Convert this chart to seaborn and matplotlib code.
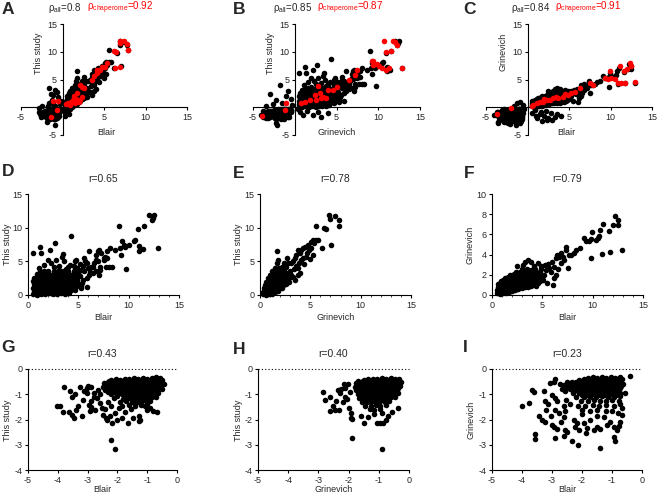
import numpy as np
import pandas as pd
import seaborn as sns
import matplotlib.pyplot as plt
from matplotlib.ticker import MultipleLocator

# ---- data: (x, y) values ----
# row 2, panel D: Blair vs This study (positive fold changes)
d_pts = [(9.0,10.2),(10.9,9.85),(11.5,10.2),(12.0,11.9),(12.5,11.9),(12.3,11.2),(12.4,11.5),(12.9,7.0),(11.0,6.5),(11.4,6.8),
         (11.0,7.3),(10.6,8.2),(10.5,8.0),(10.0,7.5),(9.6,7.1),(9.3,8.0),(9.5,7.5),(9.1,7.0),(9.2,6.0),(9.7,3.9),
         (8.6,6.7),(8.1,7.0),(7.8,6.5),(7.6,5.7),(7.8,5.5),(7.5,5.2),(7.2,4.2),(7.1,6.7),(7.0,6.6),(7.3,6.2),
         (6.8,6.0),(6.8,5.2),(6.6,4.7),(6.3,4.2),(6.5,4.1),(6.1,6.5),(5.6,5.5),(5.7,5.0),(5.9,4.7),(5.5,4.3),
         (5.3,3.7),(5.6,3.5),(5.9,2.5),(6.1,3.0),(6.5,3.2),(6.8,3.5),(7.1,3.0),(7.2,3.7),(7.7,4.1),(8.0,4.1),
         (8.3,4.2),(7.5,5.5),(5.9,1.2),(5.3,1.3),(4.3,8.7),(0.5,6.2),(1.2,7.2),(1.3,6.2),(2.2,6.7),(2.7,7.7),
         (3.5,6.1),(3.4,5.6),(2.0,5.2),(2.3,4.8),(2.8,5.2),(3.6,5.0),(4.0,4.2),(4.2,4.5),(4.7,5.0),(4.8,5.2),
         (4.6,4.3),(7.0,5.1),(6.0,4.0),(6.2,3.4),(5.2,4.6),(4.9,4.0),(5.0,3.3),(2.6,4.2),(3.1,4.3),(1.6,4.5),
         (1.1,4.0),(3.8,3.9),
         (0.5,0.15),(0.9,0.05),(1.3,0.2),(1.7,0.1),(2.1,0.25),(2.5,0.1),(2.9,0.2),(3.3,0.3),(3.7,0.15),(4.1,0.35),
         (0.55,0.6),(0.95,0.7),(1.35,0.55),(1.8,0.65),(2.2,0.5),(2.6,0.7),(3.0,0.6),(3.4,0.75),(3.85,0.6),(4.25,0.8),(4.7,0.7),
         (0.5,1.1),(0.85,1.2),(1.25,1.05),(1.65,1.15),(2.05,1.0),(2.45,1.2),(2.85,1.1),(3.25,1.2),(3.65,1.0),(4.05,1.25),
         (4.45,1.1),(4.9,1.3),(5.3,1.0),
         (0.6,1.6),(1.0,1.7),(1.4,1.55),(1.8,1.65),(2.2,1.5),(2.6,1.7),(3.0,1.6),(3.4,1.55),(3.8,1.7),(4.2,1.6),
         (4.6,1.75),(5.0,1.6),(5.4,1.8),
         (0.5,2.1),(0.9,2.2),(1.3,2.05),(1.7,2.15),(2.1,2.0),(2.5,2.2),(2.9,2.1),(3.3,2.25),(3.7,2.05),(4.1,2.2),
         (4.5,2.1),(4.9,2.3),(5.5,2.2),
         (0.6,2.55),(1.0,2.7),(1.4,2.6),(1.8,2.65),(2.2,2.55),(2.6,2.7),(3.0,2.6),(3.4,2.75),(3.8,2.6),(4.2,2.7),
         (4.7,2.65),(5.2,2.8),
         (0.9,3.05),(1.3,3.2),(1.7,3.1),(2.1,3.15),(2.5,3.0),(2.9,3.2),(3.3,3.1),(3.7,3.25),(4.1,3.1),(4.6,3.2),(5.0,3.0),
         (1.2,3.55),(1.6,3.5),(2.0,3.6),(2.6,3.5),(3.1,3.65),(3.5,3.5),(4.0,3.6),(4.6,3.55),
         (0.7,0.35),(1.1,0.4),(1.5,0.35),(1.9,0.4),(2.3,0.3),(2.7,0.45),(3.1,0.4),(3.5,0.5),(3.9,0.4),
         (0.7,0.85),(1.1,0.9),(1.5,0.8),(1.9,0.9),(2.3,0.8),(2.7,0.95),(3.1,0.85),(3.5,0.95),(3.9,0.85),(4.4,0.95),
         (0.75,1.35),(1.15,1.4),(1.55,1.3),(1.95,1.4),(2.35,1.35),(2.75,1.45),(3.15,1.35),(3.55,1.4),(3.95,1.35),(4.35,1.45),
         (0.75,1.85),(1.15,1.9),(1.55,1.8),(1.95,1.85),(2.35,1.9),(2.75,1.85),(3.15,1.95),(3.55,1.85),(3.95,1.9),(4.75,1.9),
         (0.8,2.4),(1.2,2.35),(1.6,2.45),(2.0,2.35),(2.4,2.4),(2.8,2.35),(3.2,2.45),(3.6,2.35),(4.0,2.45),(4.4,2.4),
         (1.1,2.9),(1.5,2.85),(1.9,2.9),(2.3,2.8),(2.7,2.9),(3.1,2.85),(3.5,2.95),(3.9,2.85),(4.4,2.95)]

# panel E: Grinevich vs This study (positive)
e_pts = [(6.9,11.9),(7.45,11.8),(6.95,11.3),(7.8,11.2),(7.85,10.3),(5.6,10.3),(6.4,10.0),(6.6,9.75),(7.05,7.4),(6.2,7.0),
         (5.3,8.2),(5.6,8.1),(5.8,8.1),(5.4,7.7),(5.1,7.9),(4.8,7.5),(4.5,7.1),(4.3,7.0),(4.1,6.7),(5.1,7.0),
         (4.9,6.7),(3.8,6.7),(4.0,6.3),(3.6,6.0),(5.3,6.0),(4.6,5.7),(4.3,5.5),(4.1,5.2),(3.5,5.5),(3.3,5.0),
         (3.1,4.7),(3.6,4.3),(3.8,4.0),(2.65,5.5),(2.8,4.7),(2.5,4.2),(1.8,5.2),(1.65,4.7),(1.7,6.5),(2.15,4.2),
         (2.0,3.7),(3.0,3.5),(3.1,3.0),(2.8,2.5),(4.0,3.2),(3.5,2.2),(2.0,1.0),(2.3,1.5),(4.4,4.6),(3.9,4.8),
         (3.4,3.9),(4.7,6.2),(2.6,3.3),(3.3,2.7),(2.9,1.9),(3.8,2.9),(5.0,5.3),(2.4,4.8),
         (0.3,0.1),(0.6,0.05),(0.9,0.15),(1.2,0.1),
         (0.3,0.5),(0.6,0.45),(0.9,0.55),(1.2,0.5),(1.5,0.45),(1.8,0.6),
         (0.35,1.0),(0.65,0.95),(0.95,1.05),(1.25,0.95),(1.55,1.05),(1.85,1.0),(2.15,1.1),
         (0.5,1.5),(0.8,1.45),(1.1,1.55),(1.4,1.5),(1.7,1.45),(2.0,1.55),(2.3,1.5),(2.6,1.6),
         (0.6,2.0),(0.9,2.05),(1.2,1.95),(1.5,2.05),(1.8,2.0),(2.1,1.95),(2.4,2.05),(2.7,2.1),
         (0.75,2.5),(1.05,2.45),(1.35,2.55),(1.65,2.5),(1.95,2.45),(2.25,2.55),(2.6,2.5),(3.0,2.6),
         (0.95,3.0),(1.25,3.05),(1.55,2.95),(1.85,3.05),(2.15,3.0),(2.5,2.95),(2.9,3.1),
         (1.2,3.5),(1.5,3.45),(1.8,3.55),(2.1,3.5),(2.4,3.6),
         (1.5,4.0),(1.9,4.05),(2.3,3.95),(2.6,4.1),
         (0.45,0.3),(0.75,0.3),(1.05,0.35),(0.5,0.75),(0.8,0.75),(1.1,0.8),(1.4,0.75),(1.7,0.8),
         (0.5,1.25),(0.8,1.25),(1.1,1.3),(1.4,1.25),(1.7,1.3),(2.0,1.25),
         (0.7,1.75),(1.0,1.75),(1.3,1.8),(1.6,1.75),(1.9,1.8),(2.2,1.75),(2.5,1.8),
         (0.9,2.25),(1.2,2.3),(1.5,2.25),(1.8,2.3),(2.1,2.25),(2.4,2.3),(2.8,2.3),
         (1.1,2.75),(1.4,2.8),(1.7,2.75),(2.0,2.8),(2.3,2.75),(2.7,2.8),
         (1.35,3.25),(1.65,3.3),(1.95,3.25),(2.25,3.3),(2.6,3.25),(1.7,3.8),(2.05,3.75)]

# panel F: Blair vs Grinevich (positive)
f_pts = [(12.2,7.85),(12.5,7.45),(12.05,6.95),(12.5,6.95),(12.9,4.45),(11.0,7.0),(11.65,6.3),(10.9,4.1),(11.75,4.3),(10.75,6.45),
         (10.65,5.8),(10.5,5.6),(10.3,5.45),(9.95,6.2),(9.85,5.5),(9.6,5.3),(9.35,5.3),(9.1,5.6),(8.7,4.7),(9.85,3.7),
         (8.35,4.5),(8.1,4.2),(7.85,4.0),(7.6,4.0),(7.35,4.75),(7.35,4.5),(7.5,2.65),(6.85,4.15),(6.7,3.8),(6.45,4.0),
         (6.4,3.65),(7.1,3.75),(7.2,3.5),(6.85,3.15),(6.2,2.8),(6.4,2.0),(6.2,1.65),(6.05,1.0),(5.4,2.5),(5.7,2.65),
         (5.9,2.3),(5.2,2.0),(4.7,1.8),(5.05,1.5),(3.05,3.0),(3.3,3.3),(3.55,3.5),(3.9,3.3),(4.2,2.9),(4.55,3.15),
         (4.9,2.9),(2.5,2.9),(5.6,3.1),(6.0,3.3),(5.3,3.0),(6.6,2.6),(5.5,1.2),(4.4,0.9),
         (0.5,0.15),(0.8,0.1),(1.1,0.2),(1.4,0.15),(1.7,0.25),
         (0.5,0.45),(0.8,0.5),(1.1,0.4),(1.4,0.5),(1.7,0.45),(2.0,0.4),(2.3,0.5),(2.6,0.55),
         (0.55,0.75),(0.85,0.8),(1.15,0.7),(1.45,0.8),(1.75,0.75),(2.05,0.7),(2.35,0.8),(2.65,0.75),(2.95,0.7),(3.25,0.8),
         (3.6,0.75),(3.9,0.85),
         (0.6,1.05),(0.9,1.1),(1.2,1.0),(1.5,1.1),(1.8,1.05),(2.1,1.0),(2.4,1.1),(2.7,1.05),(3.0,1.0),(3.3,1.1),
         (3.6,1.05),(3.9,1.0),(4.2,1.1),(4.6,1.15),
         (0.9,1.35),(1.2,1.4),(1.5,1.3),(1.8,1.4),(2.1,1.35),(2.4,1.3),(2.7,1.4),(3.0,1.35),(3.3,1.3),(3.6,1.4),
         (3.9,1.35),(4.2,1.3),(4.5,1.4),(4.8,1.35),
         (1.3,1.65),(1.6,1.7),(1.9,1.6),(2.2,1.7),(2.5,1.65),(2.8,1.6),(3.1,1.7),(3.4,1.65),(3.7,1.6),(4.0,1.7),
         (4.3,1.65),(4.6,1.6),(5.0,1.7),
         (1.8,1.95),(2.1,2.0),(2.4,1.9),(2.7,2.0),(3.0,1.95),(3.3,1.9),(3.6,2.0),(3.9,1.95),(4.2,1.9),(4.5,2.0),(4.8,1.95),
         (2.4,2.25),(2.8,2.3),(3.1,2.2),(3.4,2.3),(3.7,2.25),(4.0,2.2),(4.4,2.3),(4.8,2.25),
         (3.0,2.55),(3.5,2.6),(3.9,2.5),(4.3,2.6),(4.9,2.55),
         (0.65,0.3),(0.95,0.3),(1.25,0.3),(0.7,0.6),(1.0,0.6),(1.3,0.65),(1.6,0.6),(1.9,0.6),(2.2,0.65),
         (0.75,0.9),(1.05,0.9),(1.35,0.95),(1.65,0.9),(1.95,0.9),(2.25,0.95),(2.55,0.9),(2.85,0.9),(3.15,0.95),(3.45,0.9),
         (0.75,1.2),(1.05,1.25),(1.35,1.2),(1.65,1.25),(1.95,1.2),(2.25,1.2),(2.55,1.25),(2.85,1.2),(3.15,1.25),(3.45,1.2),(3.75,1.2),(4.05,1.25),
         (1.1,1.5),(1.4,1.55),(1.7,1.5),(2.0,1.55),(2.3,1.5),(2.6,1.5),(2.9,1.55),(3.2,1.5),(3.5,1.55),(3.8,1.5),(4.1,1.5),(4.4,1.55),
         (1.6,1.8),(1.95,1.8),(2.25,1.85),(2.55,1.8),(2.85,1.8),(3.15,1.85),(3.45,1.8),(3.75,1.8),(4.05,1.85),(4.4,1.8),
         (2.2,2.1),(2.55,2.15),(2.9,2.1),(3.25,2.1),(3.55,2.15),(3.85,2.1),(4.2,2.1),(4.6,2.15)]

# row 3, panel G: Blair vs This study (negative fold changes)
g_pts = [(-2.21,-2.81),(-2.08,-3.18),(-4.04,-1.48),(-3.93,-1.46),(-3.82,-1.72),(-3.79,-0.73),(-3.6,-0.86),(-3.54,-1.09),
         (-3.43,-0.99),(-3.62,-1.71),(-3.51,-1.81),(-3.46,-1.95),(-3.31,-1.48),(-3.39,-1.62),(-3.2,-1.85),(-3.11,-0.86),
         (-3.15,-1.22),(-3.01,-0.95),(-2.98,-0.66),(-2.89,-0.72),(-3.03,-0.75),(-2.96,-1.42),(-2.87,-1.28),(-2.79,-1.09),
         (-2.92,-1.68),(-2.75,-1.62),(-2.64,-0.82),(-2.7,-1.15),(-2.58,-1.35),(-2.53,-1.55),(-2.47,-1.81),(-2.38,-1.95),
         (-2.36,-2.01),(-2.19,-2.15),(-2.25,-1.88),(-2.08,-1.75),(-2.02,-2.01),(-1.85,-1.95),(-1.66,-2.12),(-1.46,-1.95),
         (-1.29,-1.88),(-1.24,-2.01),(-1.29,-2.04),(-1.01,-1.62),(-0.79,-1.68),(-0.67,-1.72),(-0.9,-1.55),(-1.07,-1.48),
         (-3.25,-0.7),(-2.8,-0.95),(-2.6,-1.0),(-2.9,-1.5),(-2.4,-1.6),(-1.95,-1.55),(-1.75,-1.7),(-1.55,-1.6),
         (-0.5,-0.8),(-0.45,-0.6),
         (-2.2,-0.45),(-2.05,-0.4),(-1.9,-0.42),(-1.75,-0.38),(-1.6,-0.41),(-1.45,-0.37),(-1.3,-0.4),(-1.15,-0.36),
         (-1.0,-0.39),(-0.85,-0.35),(-0.7,-0.33),(-0.58,-0.36),
         (-2.45,-0.55),(-2.3,-0.52),(-2.15,-0.57),(-2.0,-0.54),(-1.85,-0.56),(-1.7,-0.53),(-1.55,-0.55),(-1.4,-0.52),
         (-1.25,-0.56),(-1.1,-0.53),(-0.95,-0.5),(-0.8,-0.54),(-0.65,-0.5),(-0.5,-0.52),
         (-2.5,-0.7),(-2.35,-0.68),(-2.2,-0.72),(-2.05,-0.69),(-1.9,-0.71),(-1.75,-0.68),(-1.6,-0.7),(-1.45,-0.67),
         (-1.3,-0.71),(-1.15,-0.69),(-1.0,-0.66),(-0.85,-0.7),(-0.7,-0.68),(-0.55,-0.65),
         (-2.4,-0.85),(-2.25,-0.87),(-2.1,-0.83),(-1.95,-0.86),(-1.8,-0.84),(-1.65,-0.87),(-1.5,-0.85),(-1.35,-0.83),
         (-1.2,-0.86),(-1.05,-0.84),(-0.9,-0.82),(-0.75,-0.85),(-0.6,-0.8),
         (-2.2,-1.0),(-2.0,-1.02),(-1.85,-0.98),(-1.7,-1.01),(-1.55,-0.99),(-1.4,-1.02),(-1.25,-1.0),(-1.1,-0.98),
         (-0.95,-1.01),(-0.8,-0.97),(-0.65,-0.95),
         (-2.1,-1.15),(-1.8,-1.17),(-1.6,-1.13),(-1.45,-1.16),(-1.3,-1.14),(-1.15,-1.17),(-1.0,-1.13),(-0.85,-1.12),(-0.7,-1.1),
         (-2.3,-1.3),(-1.9,-1.32),(-1.7,-1.28),(-1.5,-1.31),(-1.35,-1.29),(-1.2,-1.32),(-1.05,-1.28),(-0.9,-1.27),
         (-2.2,-1.45),(-1.85,-1.47),(-1.6,-1.43),(-1.4,-1.46),(-1.2,-1.44),(-1.0,-1.4),
         (-2.28,-0.47),(-2.13,-0.48),(-1.98,-0.46),(-1.83,-0.48),(-1.68,-0.47),(-1.53,-0.46),(-1.38,-0.48),(-1.23,-0.47),
         (-1.08,-0.45),(-0.93,-0.46),(-0.78,-0.44),(-0.63,-0.43),(-0.5,-0.42),
         (-2.38,-0.62),(-2.23,-0.63),(-2.08,-0.61),(-1.93,-0.62),(-1.78,-0.63),(-1.63,-0.61),(-1.48,-0.62),(-1.33,-0.63),
         (-1.18,-0.61),(-1.03,-0.6),(-0.88,-0.62),(-0.73,-0.6),(-0.58,-0.58),
         (-2.43,-0.77),(-2.28,-0.78),(-2.13,-0.76),(-1.98,-0.77),(-1.83,-0.78),(-1.68,-0.76),(-1.53,-0.77),(-1.38,-0.78),
         (-1.23,-0.76),(-1.08,-0.77),(-0.93,-0.76),(-0.78,-0.75),(-0.63,-0.74),
         (-2.3,-0.92),(-2.1,-0.93),(-1.93,-0.91),(-1.78,-0.92),(-1.63,-0.93),(-1.48,-0.91),(-1.33,-0.92),(-1.18,-0.93),
         (-1.03,-0.91),(-0.88,-0.9),(-0.73,-0.89),
         (-2.0,-1.07),(-1.7,-1.08),(-1.53,-1.06),(-1.38,-1.07),(-1.23,-1.08),(-1.08,-1.06),(-0.93,-1.05),(-0.78,-1.04)]

# panel H: Grinevich vs This study (negative)
h_pts = [(-0.89,-3.17),(-1.89,-2.72),(-2.85,-0.93),(-2.77,-1.22),(-2.63,-1.09),(-2.6,-1.68),(-2.52,-1.48),(-2.46,-1.62),
         (-2.32,-1.62),(-2.41,-1.26),(-2.3,-0.95),(-2.35,-0.85),(-2.24,-0.79),(-2.16,-0.6),(-2.02,-0.6),(-2.13,-0.75),
         (-1.99,-1.55),(-1.93,-1.75),(-1.91,-1.95),(-1.89,-1.99),(-2.13,-1.09),(-1.49,-2.15),(-1.06,-2.15),(-0.97,-2.15),
         (-0.86,-2.12),(-0.75,-2.01),(-0.7,-1.88),(-0.37,-1.55),(-2.2,-1.3),(-2.05,-1.2),(-1.95,-0.9),(-1.6,-1.85),
         (-1.35,-1.9),(-1.15,-1.8),(-0.55,-1.7),(-0.9,-1.75),
         (-1.5,-0.42),(-1.35,-0.4),(-1.2,-0.38),(-1.05,-0.41),(-0.9,-0.37),(-0.75,-0.4),(-0.6,-0.35),(-0.45,-0.38),(-0.32,-0.4),
         (-1.75,-0.55),(-1.6,-0.53),(-1.45,-0.56),(-1.3,-0.54),(-1.15,-0.57),(-1.0,-0.53),(-0.85,-0.55),(-0.7,-0.52),
         (-0.55,-0.56),(-0.4,-0.53),(-0.28,-0.5),
         (-1.8,-0.7),(-1.65,-0.68),(-1.5,-0.72),(-1.35,-0.69),(-1.2,-0.71),(-1.05,-0.68),(-0.9,-0.7),(-0.75,-0.67),
         (-0.6,-0.71),(-0.45,-0.69),(-0.3,-0.66),
         (-1.75,-0.85),(-1.6,-0.87),(-1.45,-0.84),(-1.3,-0.86),(-1.15,-0.83),(-1.0,-0.86),(-0.85,-0.84),(-0.7,-0.87),
         (-0.55,-0.83),(-0.4,-0.85),
         (-1.7,-1.0),(-1.55,-1.02),(-1.4,-0.99),(-1.25,-1.01),(-1.1,-0.98),(-0.95,-1.02),(-0.8,-1.0),(-0.65,-0.98),
         (-0.5,-1.01),(-0.38,-0.97),
         (-1.65,-1.15),(-1.5,-1.17),(-1.35,-1.14),(-1.2,-1.16),(-1.05,-1.13),(-0.9,-1.17),(-0.75,-1.14),(-0.6,-1.12),(-0.45,-1.1),
         (-1.55,-1.3),(-1.4,-1.32),(-1.25,-1.29),(-1.1,-1.31),(-0.95,-1.28),(-0.8,-1.3),(-0.65,-1.27),
         (-1.45,-1.45),(-1.25,-1.47),(-1.1,-1.44),(-0.95,-1.46),(-0.75,-1.43),
         (-1.3,-1.6),(-1.15,-1.62),(-0.95,-1.58),
         (-1.68,-0.47),(-1.53,-0.48),(-1.38,-0.46),(-1.23,-0.47),(-1.08,-0.48),(-0.93,-0.46),(-0.78,-0.47),(-0.63,-0.45),
         (-0.48,-0.46),(-0.35,-0.45),
         (-1.73,-0.62),(-1.58,-0.63),(-1.43,-0.61),(-1.28,-0.62),(-1.13,-0.63),(-0.98,-0.61),(-0.83,-0.62),(-0.68,-0.6),
         (-0.53,-0.61),(-0.38,-0.6),
         (-1.73,-0.77),(-1.58,-0.78),(-1.43,-0.76),(-1.28,-0.77),(-1.13,-0.78),(-0.98,-0.76),(-0.83,-0.77),(-0.68,-0.78),
         (-0.53,-0.76),(-0.38,-0.75),
         (-1.68,-0.92),(-1.53,-0.93),(-1.38,-0.91),(-1.23,-0.92),(-1.08,-0.93),(-0.93,-0.91),(-0.78,-0.92),(-0.63,-0.9),
         (-0.48,-0.91),
         (-1.6,-1.07),(-1.45,-1.08),(-1.3,-1.06),(-1.15,-1.07),(-1.0,-1.08),(-0.85,-1.06),(-0.7,-1.05),(-0.55,-1.04),
         (-1.45,-1.22),(-1.3,-1.23),(-1.15,-1.21),(-1.0,-1.22),(-0.85,-1.21),(-0.7,-1.2)]

# panel I: Blair vs Grinevich (negative)
i_pts = [(-1.39,-3.14),(-0.39,-0.29),(-0.94,-2.68),(-0.89,-2.87),(-4.0,-1.46),(-3.78,-1.35),(-3.67,-0.82),(-3.61,-0.93),
         (-3.56,-2.57),(-3.58,-2.78),(-3.44,-1.85),(-3.28,-0.89),(-3.22,-1.25),(-3.19,-1.62),(-3.33,-2.01),(-3.22,-2.08),
         (-3.06,-0.56),(-2.94,-0.53),(-2.89,-0.4),(-2.89,-2.74),(-3.0,-2.21),(-2.94,-2.28),(-2.83,-2.36),(-3.0,-1.02),
         (-2.89,-1.15),(-2.83,-1.28),(-2.89,-1.62),(-2.78,-1.75),(-2.67,-0.79),(-2.56,-0.89),(-2.52,-1.22),(-2.61,-1.48),
         (-2.56,-1.68),(-2.59,-1.91),(-2.56,-2.41),(-2.59,-2.65),(-2.5,-2.48),(-2.33,-2.87),(-2.14,-3.0),(-2.28,-2.01),
         (-2.17,-2.15),(-2.22,-2.28),(-2.11,-2.41),(-1.94,-2.15),(-1.83,-2.34),(-1.86,-2.54),(-1.61,-2.41),(-1.5,-2.28),
         (-1.39,-2.38),(-1.17,-2.21),(-1.06,-2.08),(-0.94,-2.28),(-0.78,-2.25),(-0.72,-2.08),(-0.83,-2.41),(-1.72,-2.01),
         (-1.5,-1.88),(-1.28,-1.91),(-0.67,-1.55),(-0.67,-1.81),(-0.56,-0.95),(-2.75,-0.6),(-3.15,-1.4),(-2.4,-1.4),
         (-2.0,-1.8),(-1.2,-1.65),(-0.8,-1.75),(-2.7,-2.1),(-3.05,-1.85),
         (-1.95,-0.38),(-1.8,-0.35),(-1.65,-0.33),(-1.5,-0.36),(-1.35,-0.32),(-1.2,-0.35),(-1.05,-0.3),(-0.9,-0.34),(-0.75,-0.3),
         (-2.5,-0.52),(-2.35,-0.5),(-2.2,-0.53),(-2.05,-0.49),(-1.9,-0.51),(-1.75,-0.48),(-1.6,-0.52),(-1.45,-0.5),
         (-1.3,-0.47),(-1.15,-0.51),(-1.0,-0.49),(-0.85,-0.46),(-0.7,-0.5),
         (-2.6,-0.65),(-2.45,-0.67),(-2.3,-0.63),(-2.15,-0.66),(-2.0,-0.64),(-1.85,-0.67),(-1.7,-0.63),(-1.55,-0.66),
         (-1.4,-0.64),(-1.25,-0.67),(-1.1,-0.63),(-0.95,-0.65),(-0.8,-0.62),(-0.65,-0.6),
         (-2.4,-0.8),(-2.25,-0.82),(-2.1,-0.79),(-1.95,-0.81),(-1.8,-0.78),(-1.65,-0.82),(-1.5,-0.8),(-1.35,-0.79),
         (-1.2,-0.81),(-1.05,-0.78),(-0.9,-0.8),(-0.75,-0.77),
         (-2.3,-0.95),(-2.1,-0.97),(-1.95,-0.94),(-1.8,-0.96),(-1.65,-0.93),(-1.5,-0.97),(-1.35,-0.95),(-1.2,-0.94),
         (-1.05,-0.96),(-0.9,-0.93),(-0.72,-0.95),
         (-2.2,-1.1),(-1.95,-1.12),(-1.75,-1.09),(-1.55,-1.11),(-1.35,-1.08),(-1.15,-1.12),(-0.95,-1.1),(-0.75,-1.07),
         (-2.05,-1.25),(-1.8,-1.27),(-1.6,-1.24),(-1.4,-1.28),(-1.2,-1.25),(-1.0,-1.23),(-0.78,-1.26),
         (-2.15,-1.45),(-1.9,-1.48),(-1.65,-1.43),(-1.45,-1.47),(-1.2,-1.44),(-0.95,-1.46),(-0.75,-1.4),
         (-2.0,-1.62),(-1.75,-1.66),(-1.5,-1.63),(-1.0,-1.65),
         (-2.1,-0.42),(-1.88,-0.43),(-1.73,-0.41),(-1.58,-0.42),(-1.43,-0.43),(-1.28,-0.41),(-1.13,-0.42),(-0.98,-0.4),
         (-0.83,-0.41),(-0.68,-0.4),
         (-2.4,-0.57),(-2.25,-0.58),(-2.1,-0.56),(-1.95,-0.57),(-1.8,-0.58),(-1.65,-0.56),(-1.5,-0.57),(-1.35,-0.58),
         (-1.2,-0.56),(-1.05,-0.57),(-0.9,-0.55),(-0.75,-0.56),
         (-2.5,-0.72),(-2.35,-0.73),(-2.2,-0.71),(-2.05,-0.72),(-1.9,-0.73),(-1.75,-0.71),(-1.6,-0.72),(-1.45,-0.73),
         (-1.3,-0.71),(-1.15,-0.72),(-1.0,-0.71),(-0.85,-0.7),(-0.7,-0.69),
         (-2.3,-0.87),(-2.15,-0.88),(-2.0,-0.86),(-1.85,-0.87),(-1.7,-0.88),(-1.55,-0.86),(-1.4,-0.87),(-1.25,-0.88),
         (-1.1,-0.86),(-0.95,-0.87),(-0.8,-0.85),
         (-2.0,-1.02),(-1.85,-1.03),(-1.7,-1.01),(-1.55,-1.02),(-1.4,-1.03),(-1.25,-1.01),(-1.1,-1.02),(-0.95,-1.0),(-0.8,-1.01)]

# row 1 extra points (mixed-sign) and chaperome proteins (red)
a_extra = [(-1.57,3.4),(-0.89,3.1),(-0.68,2.8),(-1.09,2.2),(-1.4,2.3),(-1.29,1.3),(-0.5,1.8),(-1.6,0.8),(-0.3,0.5),
           (-0.9,0.3),(-1.2,0.5),(-0.2,1.2),(0.2,-0.3),(0.4,-0.8),(0.6,-0.5),(0.8,-1.2),(0.3,-1.5),(0.5,-0.2),
           (0.9,-0.4),(-1.8,0.2),(-2.5,0.2),(-2.8,-0.2)]
a_chap = [(6.9,12.0),(6.95,11.5),(7.4,12.0),(7.75,11.4),(7.9,10.4),(6.25,10.2),(6.5,10.0),(6.95,7.3),(6.35,7.0),
          (5.35,7.9),(5.15,7.3),(4.75,7.3),(4.55,6.7),(4.2,6.7),(4.15,6.1),(3.75,5.6),(3.55,4.9),(2.55,3.4),
          (2.35,3.7),(2.15,4.0),(1.8,2.6),(1.4,2.0),(1.65,1.45),(1.3,1.3),(1.0,1.0),(0.7,0.7),(0.45,0.6),
          (0.9,0.4),(1.95,1.0),(2.15,1.3),(1.55,0.7),(2.35,1.9),(-1.1,1.2),(-0.6,1.2),(-0.7,-0.5),(-1.4,-1.7)]
b_extra = [(-3.0,2.35),(-1.8,4.0),(-2.2,1.3),(-1.0,2.0),(-0.5,1.5),(-1.5,0.8),(-0.8,3.0),(-2.6,0.6),(0.6,-0.8),
           (1.0,-1.4),(2.2,-1.4),(3.2,-1.7),(4.0,-1.0),(1.5,-0.6),(2.8,-0.8),(0.4,-0.3),(-0.3,0.4),(-3.5,0.3)]
b_chap = [(10.7,11.9),(11.8,12.0),(12.0,11.7),(12.2,11.3),(11.5,10.2),(10.9,9.9),(9.2,8.25),(9.4,7.65),(9.8,7.8),
          (10.1,7.35),(10.4,7.05),(10.9,6.75),(11.3,7.05),(12.8,7.05),(9.4,8.25),(7.4,6.75),(7.2,5.85),(6.5,4.95),
          (5.0,3.6),(4.6,3.1),(2.8,3.85),(4.0,3.1),(3.0,2.5),(3.4,1.9),(3.8,1.6),(2.6,1.3),(1.8,1.3),(1.2,1.0),
          (0.8,0.7),(2.4,2.2),(3.2,1.6),(-1.0,0.7),(-1.2,-0.5),(-3.9,-1.55)]
c_extra = [(0.9,-0.5),(1.5,-1.2),(2.0,-1.5),(2.5,-1.9),(1.2,-2.0),(1.8,-2.4),(3.0,-2.3),(2.4,-2.3),(1.0,-1.5),
           (2.8,-1.0),(3.5,-1.2),(4.0,-1.5),(1.6,-0.8),(2.2,-0.6),(-1.3,0.7),(-0.9,1.0),(-1.6,0.3),(-0.5,0.4),
           (3.3,-1.8),(0.6,-1.0)]
c_chap = [(12.3,7.95),(12.5,7.5),(12.0,6.9),(11.6,6.45),(11.1,7.35),(9.9,6.45),(10.9,4.35),(11.3,4.35),(11.7,4.45),
          (12.9,4.5),(9.3,5.2),(9.7,5.1),(10.1,5.2),(10.5,5.05),(7.5,4.35),(7.9,4.05),(6.3,3.4),(5.7,2.8),(5.3,2.5),
          (4.9,2.2),(4.3,1.9),(3.7,1.6),(3.1,1.6),(2.7,1.3),(2.3,1.3),(1.9,1.0),(1.5,1.0),(1.1,0.7),(0.7,0.4),
          (0.5,0.25),(-2.0,-0.2),(-3.7,-1.3),(2.0,1.4),(3.4,1.9),(4.5,2.3)]

rho_all = ['0.8', '0.85', '0.84']
rho_chap = ['0.92', '0.87', '0.91']
r_pos = ['0.65', '0.78', '0.79']
r_neg = ['0.43', '0.40', '0.23']
xlabels = ['Blair', 'Grinevich', 'Blair']
ylabels = ['This study', 'This study', 'Grinevich']
xlabels_top = ['Blair', 'Grinevich', 'Blair']


sns.set_style('ticks')
plt.rcParams['font.family'] = ['Liberation Sans', 'DejaVu Sans']
plt.rcParams['mathtext.fontset'] = 'custom'
plt.rcParams['mathtext.rm'] = 'Liberation Sans'
plt.rcParams['mathtext.it'] = 'Liberation Sans:italic'
plt.rcParams['axes.unicode_minus'] = False

W, H = 657, 496
fig = plt.figure(figsize=(W / 100, H / 100), dpi=100)
RED = '#ff0000'
FS = 6.5


def box(l, r, t, b):
    # pixel box -> figure fraction
    return [l / W, 1 - b / H, (r - l) / W, (b - t) / H]


def dots(ax, pts, color):
    df = pd.DataFrame(pts, columns=['x', 'y'])
    sns.scatterplot(data=df, x='x', y='y', ax=ax, color=color, s=16,
                    linewidth=0, legend=False, clip_on=False, zorder=3)


def style(ax):
    for s in ['top', 'right']:
        ax.spines[s].set_visible(False)
    for s in ['left', 'bottom']:
        ax.spines[s].set_linewidth(0.8)
        ax.spines[s].set_color('black')
    ax.tick_params(length=2.5, width=0.8, labelsize=FS, pad=1.5, color='black')
    ax.tick_params(which='minor', length=1.5, width=0.6)


# ---- row 1 ----
top_boxes = [(21, 187), (253, 420), (486, 652)]
top_sets = [(e_pts + h_pts + a_extra, a_chap), (d_pts + g_pts + b_extra, b_chap), (f_pts + i_pts + c_extra, c_chap)]
title_split = [(0.367, 0.398), (0.353, 0.383), (0.386, 0.416)]
xlab_pos = [0.512, 0.503, 0.482]
ylab_y = [0.739, 0.739, 0.748]
for k in range(3):
    l, r = top_boxes[k]
    ax = fig.add_axes(box(l, r, 24, 135))
    blk, red = top_sets[k]
    dots(ax, blk, 'black')
    dots(ax, red, RED)
    ax.set_xlim(-5, 15)
    ax.set_ylim(-5, 15)
    style(ax)
    ax.spines['left'].set_position(('data', 0))
    ax.spines['bottom'].set_position(('data', 0))
    ax.set_xticks([-5, 0, 5, 10, 15], ['-5', '', '5', '10', '15'])
    ax.set_yticks([-5, 0, 5, 10, 15], ['-5', '', '5', '10', '15'])
    ax.set_xlabel(xlabels_top[k], fontsize=FS)
    ax.set_ylabel(ylabels[k], fontsize=FS)
    ax.xaxis.set_label_coords(xlab_pos[k], 0.063)
    ax.yaxis.set_label_coords(0.13, ylab_y[k])
    a, b = title_split[k]
    ax.text(a, 1.12, r'ρ$_{\mathrm{all}}$=' + rho_all[k], transform=ax.transAxes,
            ha='right', va='baseline', fontsize=7)
    ax.text(b, 1.12, r'ρ$_{\mathrm{chaperome}}$=' + rho_chap[k], transform=ax.transAxes,
            ha='left', va='baseline', fontsize=7, color=RED)

# ---- row 2 ----
mid_boxes = [(28, 179), (260, 411), (492, 643)]
mid_sets = [d_pts, e_pts, f_pts]
ylab_x2 = [-0.106, -0.113, -0.113]
for k in range(3):
    l, r = mid_boxes[k]
    ax = fig.add_axes(box(l, r, 194, 295))
    dots(ax, mid_sets[k], 'black')
    ax.set_xlim(0, 15)
    style(ax)
    ax.set_xticks([0, 5, 10, 15])
    ax.xaxis.set_minor_locator(MultipleLocator(1))
    if k == 2:
        ax.set_ylim(0, 10)
        ax.set_yticks([0, 2, 4, 6, 8, 10])
    else:
        ax.set_ylim(0, 15)
        ax.set_yticks([0, 5, 10, 15])
    ax.set_xlabel(xlabels[k], fontsize=FS)
    ax.set_ylabel(ylabels[k], fontsize=FS)
    ax.xaxis.set_label_coords(0.5, -0.178)
    ax.yaxis.set_label_coords(ylab_x2[k], 0.5)
    ax.text(0.5, 1.119, 'r=' + r_pos[k], transform=ax.transAxes, ha='center',
            va='baseline', fontsize=7.5)

# ---- row 3 ----
bot_boxes = [(28, 177), (258, 409), (492, 642)]
bot_sets = [g_pts, h_pts, i_pts]
ylab_x3 = [-0.106, -0.1, -0.113]
for k in range(3):
    l, r = bot_boxes[k]
    ax = fig.add_axes(box(l, r, 369, 470))
    dots(ax, bot_sets[k], 'black')
    ax.set_xlim(-5, 0)
    ax.set_ylim(-4, 0)
    style(ax)
    ax.axhline(0, color='black', lw=0.8, ls=(0, (1, 2)), clip_on=False)
    ax.set_xticks([-5, -4, -3, -2, -1, 0])
    ax.set_yticks([-4, -3, -2, -1, 0])
    ax.set_xlabel(xlabels[k], fontsize=FS)
    ax.set_ylabel(ylabels[k], fontsize=FS)
    ax.xaxis.set_label_coords(0.5, -0.15)
    ax.yaxis.set_label_coords(ylab_x3[k], 0.495)
    ax.text(0.5, 1.119, 'r=' + r_neg[k], transform=ax.transAxes, ha='center',
            va='baseline', fontsize=7.5)

# panel letters
letters = ['A', 'B', 'C', 'D', 'E', 'F', 'G', 'H', 'I']
letter_xy = [(8, 9), (239, 9), (470, 9), (8, 172), (239, 173), (469, 173), (8, 348), (239, 349), (465, 348)]
for lab, (px, py) in zip(letters, letter_xy):
    fig.text(px / W, 1 - py / H, lab, fontsize=12.5, fontweight='bold', ha='center', va='center')

fig.savefig('out.png', dpi=100)
